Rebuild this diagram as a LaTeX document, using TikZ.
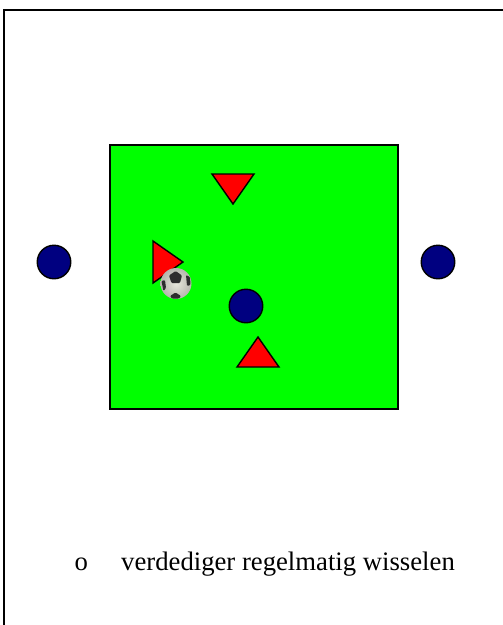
\documentclass[tikz,border=0pt]{standalone}
\usepackage{fontspec}
\setmainfont{Liberation Serif}
\definecolor{navy}{RGB}{0,0,128}
\definecolor{ballgrey}{RGB}{225,225,210}
\definecolor{balldark}{RGB}{45,45,45}
\tikzset{
  px/.style={x=1pt,y=-1pt},
  frame/.style={draw=black,line width=1.6pt},
  field/.style={draw=black,line width=1.4pt,fill=green},
  marker/.style={draw=black,line width=1.4pt,fill=red,line join=miter},
  player/.style={circle,draw=black,line width=1.4pt,fill=navy,minimum size=33.5pt,inner sep=0pt},
  ballbody/.style={circle,minimum size=31pt,inner sep=0pt,inner color=ballgrey!80!white,outer color=ballgrey!55!gray},
  patch/.style={fill=balldark},
  lbl/.style={font=\fontsize{26.7}{32}\selectfont,anchor=base west,inner sep=0pt,text=black}
}
\begin{document}
\begin{tikzpicture}[px]
\useasboundingbox (0,0) rectangle (503,625);
\fill[white] (0,0) rectangle (503,625);
\draw[frame] (4,625) -- (4,10) -- (503,10);
\path[field] (110,145) rectangle (398,409);
\path[marker] (212,174) -- (254,174) -- (233,204) -- cycle;
\path[marker] (153,241) -- (183,262) -- (153,283) -- cycle;
\path[marker] (237,367) -- (279,367) -- (258,337) -- cycle;
\node[player] (left) at (54,262) {};
\node[player] (right) at (438,262) {};
\node[player] (mid) at (246,306) {};
\node[ballbody] (ball) at (176,283.5) {};
\fill[patch,rounded corners=1pt] (175.7,271) -- (182,275.5) -- (180,283) -- (171.5,283) -- (169,275.5) -- cycle;
\fill[patch,rounded corners=1pt] (161.5,281) -- (165,280) -- (166,288) -- (163.5,291) -- cycle;
\fill[patch,rounded corners=1pt] (186,275) -- (190,277) -- (190.5,285) -- (187,286) -- cycle;
\fill[patch,rounded corners=1pt] (170,296) -- (175.5,292.5) -- (181,296) -- (179,298.5) -- (172,298.5) -- cycle;
\node[lbl] (bullet) at (74.5,570.5) {o};
\node[lbl] (text) at (121,570) {verdediger regelmatig wisselen};
\end{tikzpicture}
\end{document}
